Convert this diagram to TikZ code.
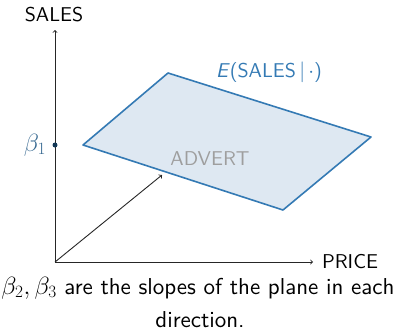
\documentclass[tikz,border=0pt]{standalone}
\usepackage{amsmath}
\usepackage{amssymb}
\usepackage{fontspec}
\setsansfont{lmsans10}[Extension=.otf,UprightFont=*-regular,ItalicFont=*-oblique,BoldFont=*-bold]
\usepackage{tikz}
\usetikzlibrary{arrows,calc}
\definecolor{planeblue}{RGB}{52,122,180}
\definecolor{planefill}{RGB}{222,232,242}
\definecolor{dotblue}{RGB}{18,55,85}
\definecolor{betablue}{RGB}{55,105,145}

\begin{document}
\begin{tikzpicture}[x=1pt,y=-1pt,
    font=\sffamily\fontsize{20}{24}\selectfont,
    caption/.style={font=\sffamily\fontsize{23}{27}\selectfont},
    axis/.style={->,>=to,line width=0.9pt,black!85},
    plane/.style={draw=planeblue,fill=planefill,line width=1.6pt,line join=round}]
    \useasboundingbox (0,0) rectangle (396,335);
    \coordinate (O) at (55,262);
    \coordinate (Ytop) at (55,30);
    \coordinate (Xend) at (313,262);
    \coordinate (Zend) at (162,175);
    \coordinate (P1) at (83,145);
    \coordinate (P2) at (168,73);
    \coordinate (P3) at (371,137);
    \coordinate (P4) at (283,210);
    \draw[plane] (P1) -- (P2) -- (P3) -- (P4) -- cycle;
    \path[axis]
      (O) edge (Ytop)
      (O) edge (Xend)
      (O) edge (Zend);
    \node (sales) at (54,15) {SALES};
    \node (price) at (350,262) {PRICE};
    \node (advert) at (210,159) [text=black!38] {ADVERT};
    \node (ecurve) at (269,72) [text=planeblue] {\textit{E}(SALES\,$|$\,$\cdot$)};
    \node (b1dot) at (55,145) [circle,fill=dotblue,inner sep=0pt,minimum size=5pt] {};
    \node (b1) at (35,145) [text=betablue,caption] {$\beta_1$};
    \node (cap1) at (198,288) [caption] {$\beta_2,\beta_3$ are the slopes of the plane in each};
    \node (cap2) at (200,320) [caption] {direction.};
  \end{tikzpicture}
\end{document}
